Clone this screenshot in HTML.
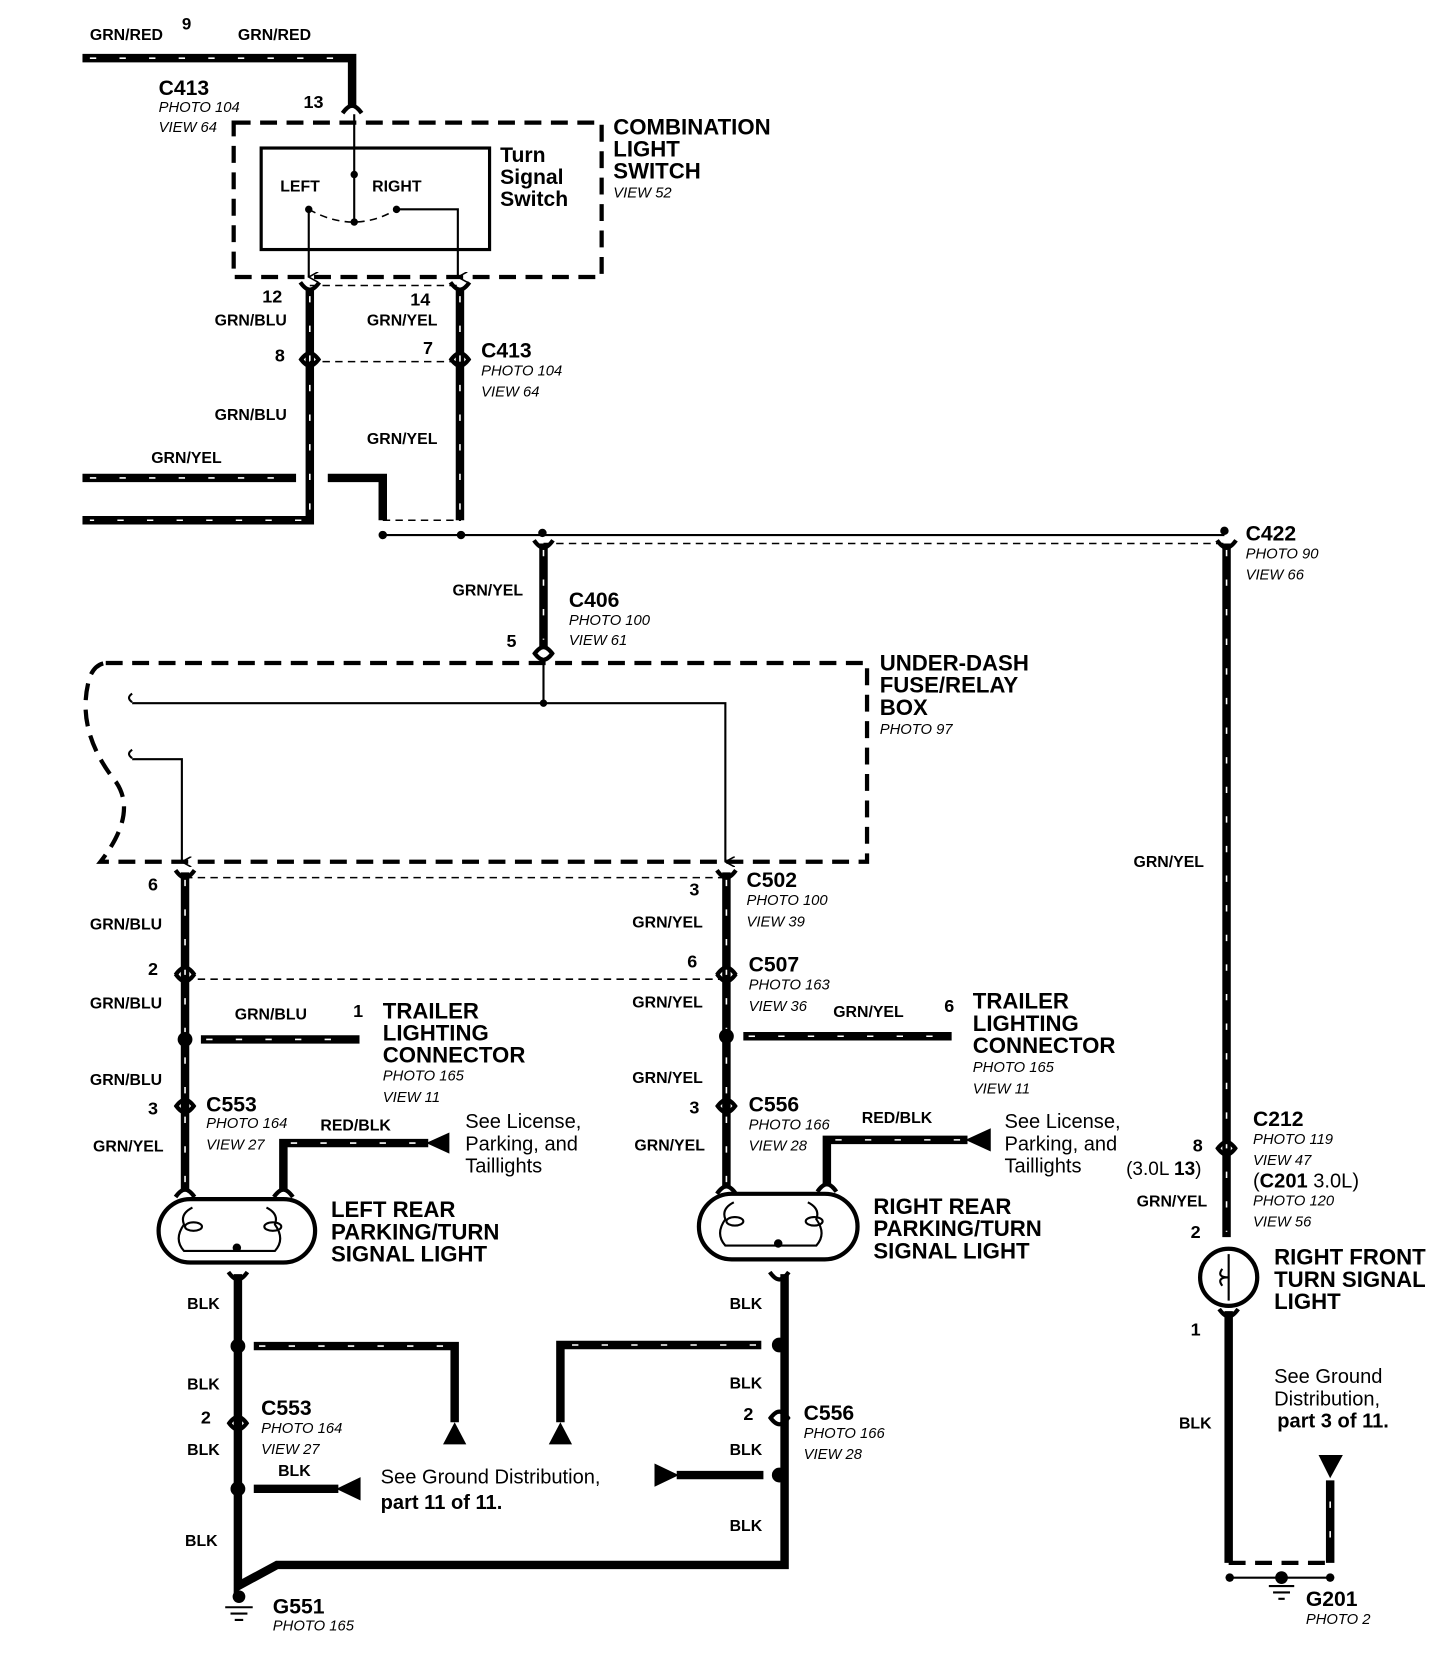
<!DOCTYPE html>
<html><head><meta charset="utf-8"><style>
html,body{margin:0;padding:0;background:#fff;}
svg{display:block;}
text{font-family:"Liberation Sans",sans-serif;fill:#000;}
.b{font-weight:bold;font-size:15px;}
.c{font-weight:bold;font-size:20px;}
.p{font-style:italic;font-size:14px;}
.L{font-weight:bold;font-size:21px;}
.n{font-size:19px;}
.w{stroke:#000;stroke-width:8;fill:none;}
.h{stroke:#fff;stroke-width:1.5;stroke-dasharray:6 22;fill:none;}
.t{stroke:#000;stroke-width:2;fill:none;}
.d{stroke:#000;stroke-width:1.5;stroke-dasharray:7 5;fill:none;}
.D{stroke:#000;stroke-width:4;stroke-dasharray:16 9;fill:none;}
.f{stroke:#000;stroke-width:4;fill:none;stroke-linejoin:round;}
</style></head><body>
<svg width="1456" height="1658" viewBox="0 0 1377 1568" xmlns="http://www.w3.org/2000/svg" preserveAspectRatio="none">
<defs>
<marker id="ar" markerWidth="10" markerHeight="10" refX="5" refY="9" orient="auto" markerUnits="userSpaceOnUse"><path d="M0,0 L5,9 L10,0" fill="none" stroke="#000" stroke-width="1.5"/></marker>
<path id="fu" d="M-9,-7 Q-4,0 0,0 Q4,0 9,-7"/>
<path id="fd" d="M-9,7 Q-4,0 0,0 Q4,0 9,7"/>
</defs>
<!-- top wire -->
<path class="w" d="M78,55 H333 V100"/><path class="h" d="M85,55 H325"/>
<text class="b" x="85" y="38">GRN/RED</text><text class="b" x="225" y="38">GRN/RED</text>
<text class="b" x="172" y="28" style="font-size:16px">9</text>
<text class="c" x="150" y="90">C413</text><text class="p" x="150" y="106">PHOTO 104</text><text class="p" x="150" y="125">VIEW 64</text>
<text class="b" x="287" y="102" style="font-size:17px">13</text>
<!-- combination switch -->
<rect class="D" x="221" y="116" width="348" height="146"/>
<rect x="247" y="140" width="216" height="96" fill="none" stroke="#000" stroke-width="3"/>
<text class="b" x="265" y="181">LEFT</text><text class="b" x="352" y="181">RIGHT</text>
<text class="c" x="473" y="153">Turn</text><text class="c" x="473" y="174">Signal</text><text class="c" x="473" y="195">Switch</text>
<text class="L" x="580" y="127">COMBINATION</text><text class="L" x="580" y="148">LIGHT</text><text class="L" x="580" y="169">SWITCH</text>
<text class="p" x="580" y="187">VIEW 52</text>
<path class="t" d="M335,108 V210"/><circle cx="335" cy="165" r="3.5"/><circle cx="335" cy="210" r="3.5"/>
<circle cx="292" cy="198" r="3.5"/><circle cx="375" cy="198" r="3.5"/>
<path class="d" d="M292,198 Q335,222 375,198"/>
<path class="t" d="M292,198 V262" marker-end="url(#ar)"/>
<path class="t" d="M375,198 H433 V262" marker-end="url(#ar)"/>
<!-- down wires -->
<path class="w" d="M293,272 V492 H78"/><path class="h" d="M293,280 V485"/><path class="h" d="M285,492 H85"/>
<path class="w" d="M435,272 V492"/><path class="h" d="M435,280 V485"/>
<path class="w" d="M78,452 H280"/><path class="h" d="M85,452 H275"/>
<path class="w" d="M310,452 H362 V492"/>
<path class="d" d="M293,270 H435"/><path class="d" d="M293,342 H435"/><path class="d" d="M362,492 H436"/>
<text class="b" x="248" y="286" style="font-size:17px">12</text><text class="b" x="203" y="308">GRN/BLU</text>
<text class="b" x="388" y="289" style="font-size:17px">14</text><text class="b" x="347" y="308">GRN/YEL</text>
<text class="b" x="260" y="342" style="font-size:17px">8</text><text class="b" x="400" y="335" style="font-size:17px">7</text>
<text class="c" x="455" y="338">C413</text><text class="p" x="455" y="355">PHOTO 104</text><text class="p" x="455" y="375">VIEW 64</text>
<text class="b" x="203" y="397">GRN/BLU</text><text class="b" x="347" y="420">GRN/YEL</text><text class="b" x="143" y="438">GRN/YEL</text>
<path class="t" d="M362,506 H1158"/>
<circle cx="362" cy="506" r="4"/><circle cx="436" cy="506" r="4"/><circle cx="513" cy="504" r="4"/><circle cx="1158" cy="502" r="4"/>
<!-- C406 -->
<path class="w" d="M514,514 V612"/><path class="h" d="M514,520 V605"/>
<path class="d" d="M514,514 H1158"/>
<text class="b" x="428" y="563">GRN/YEL</text>
<text class="c" x="538" y="574">C406</text><text class="p" x="538" y="591">PHOTO 100</text><text class="p" x="538" y="610">VIEW 61</text>
<text class="b" x="479" y="612" style="font-size:17px">5</text>
<!-- right wire -->
<path class="w" d="M1160,514 V1170"/><path class="h" d="M1160,520 V1165"/>
<text class="c" x="1178" y="511">C422</text><text class="p" x="1178" y="528">PHOTO 90</text><text class="p" x="1178" y="548">VIEW 66</text>
<text class="b" x="1072" y="820">GRN/YEL</text>
<!-- under-dash box -->
<path class="D" d="M100,627 H820 V815 H95 Q130,770 110,740 Q70,690 85,640 Q90,628 100,627"/>
<text class="L" x="832" y="634">UNDER-DASH</text><text class="L" x="832" y="655">FUSE/RELAY</text><text class="L" x="832" y="676">BOX</text>
<text class="p" x="832" y="694">PHOTO 97</text>
<path class="t" d="M514,628 V665"/><circle cx="514" cy="665" r="3.5"/>
<path class="t" d="M125,665 H686 V815" marker-end="url(#ar)"/>
<path class="t" d="M125,718 H172 V815" marker-end="url(#ar)"/>
<path class="t" d="M125,656 q-6,4 0,8 M125,709 q-6,4 0,8"/>
<!-- left column -->
<path class="w" d="M175,825 V1125"/><path class="h" d="M175,832 V1120"/>
<path class="w" d="M687,825 V1122"/><path class="h" d="M687,832 V1118"/>
<path class="d" d="M175,830 H687"/><path class="d" d="M175,926 H687"/>
<text class="b" x="140" y="842" style="font-size:17px">6</text><text class="b" x="85" y="879">GRN/BLU</text>
<text class="b" x="140" y="922" style="font-size:17px">2</text><text class="b" x="85" y="954">GRN/BLU</text>
<circle cx="175" cy="983" r="7"/>
<text class="b" x="222" y="964">GRN/BLU</text>
<path class="w" d="M190,983 H340"/><path class="h" d="M195,983 H335"/>
<text class="b" x="334" y="962" style="font-size:17px">1</text>
<text class="L" x="362" y="963">TRAILER</text><text class="L" x="362" y="984">LIGHTING</text><text class="L" x="362" y="1005">CONNECTOR</text>
<text class="p" x="362" y="1022">PHOTO 165</text><text class="p" x="362" y="1042">VIEW 11</text>
<text class="b" x="85" y="1026">GRN/BLU</text><text class="b" x="140" y="1054" style="font-size:17px">3</text>
<text class="c" x="195" y="1051">C553</text><text class="p" x="195" y="1067">PHOTO 164</text><text class="p" x="195" y="1087">VIEW 27</text>
<text class="b" x="88" y="1089">GRN/YEL</text>
<text class="b" x="303" y="1069">RED/BLK</text>
<path class="w" d="M268,1125 V1081 H405"/><path class="h" d="M275,1081 H400"/>
<path d="M403,1081 L425,1071 V1091 Z"/>
<text class="n" x="440" y="1067">See License,</text><text class="n" x="440" y="1088">Parking, and</text><text class="n" x="440" y="1109">Taillights</text>
<rect x="150" y="1134" width="148" height="60" rx="30" fill="none" stroke="#000" stroke-width="4"/>
<path class="t" d="M182,1142 q-12,6 -8,16 q-10,14 0,25 h86 q10,-11 0,-25 q4,-10 -8,-16"/>
<ellipse cx="183" cy="1160" rx="8" ry="4" class="t"/><ellipse cx="258" cy="1160" rx="8" ry="4" class="t"/>
<circle cx="224" cy="1180" r="4"/>
<text class="L" x="313" y="1151">LEFT REAR</text><text class="L" x="313" y="1172">PARKING/TURN</text><text class="L" x="313" y="1193">SIGNAL LIGHT</text>
<!-- right column labels -->
<text class="b" x="652" y="847" style="font-size:17px">3</text>
<text class="c" x="706" y="839">C502</text><text class="p" x="706" y="856">PHOTO 100</text><text class="p" x="706" y="876">VIEW 39</text>
<text class="b" x="598" y="877">GRN/YEL</text>
<text class="b" x="650" y="915" style="font-size:17px">6</text>
<text class="c" x="708" y="919">C507</text><text class="p" x="708" y="936">PHOTO 163</text><text class="p" x="708" y="956">VIEW 36</text>
<text class="b" x="598" y="953">GRN/YEL</text>
<circle cx="687" cy="980" r="7"/>
<text class="b" x="788" y="962">GRN/YEL</text>
<path class="w" d="M703,980 H900"/><path class="h" d="M708,980 H895"/>
<text class="b" x="893" y="957" style="font-size:17px">6</text>
<text class="L" x="920" y="954">TRAILER</text><text class="L" x="920" y="975">LIGHTING</text><text class="L" x="920" y="996">CONNECTOR</text>
<text class="p" x="920" y="1014">PHOTO 165</text><text class="p" x="920" y="1034">VIEW 11</text>
<text class="b" x="598" y="1024">GRN/YEL</text><text class="b" x="652" y="1053" style="font-size:17px">3</text>
<text class="c" x="708" y="1051">C556</text><text class="p" x="708" y="1068">PHOTO 166</text><text class="p" x="708" y="1088">VIEW 28</text>
<text class="b" x="600" y="1088">GRN/YEL</text>
<text class="b" x="815" y="1062">RED/BLK</text>
<path class="w" d="M782,1120 V1078 H915"/><path class="h" d="M790,1078 H910"/>
<path d="M913,1078 L937,1067 V1089 Z"/>
<text class="n" x="950" y="1067">See License,</text><text class="n" x="950" y="1088">Parking, and</text><text class="n" x="950" y="1109">Taillights</text>
<rect x="661" y="1129" width="150" height="62" rx="31" fill="none" stroke="#000" stroke-width="4"/>
<path class="t" d="M694,1137 q-12,6 -8,16 q-10,14 0,25 h86 q10,-11 0,-25 q4,-10 -8,-16"/>
<ellipse cx="695" cy="1155" rx="8" ry="4" class="t"/><ellipse cx="770" cy="1155" rx="8" ry="4" class="t"/>
<circle cx="736" cy="1176" r="4"/>
<text class="L" x="826" y="1148">RIGHT REAR</text><text class="L" x="826" y="1169">PARKING/TURN</text><text class="L" x="826" y="1190">SIGNAL LIGHT</text>
<!-- bottom left -->
<path class="w" d="M225,1205 V1500 L262,1480 H742 V1205"/>
<text class="b" x="177" y="1238">BLK</text><circle cx="225" cy="1273" r="7"/>
<path class="w" d="M240,1273 H430 V1345"/><path class="h" d="M245,1273 H425"/>
<path d="M430,1345 L419,1366 H441 Z"/>
<text class="b" x="177" y="1314">BLK</text><text class="b" x="190" y="1346" style="font-size:17px">2</text>
<text class="c" x="247" y="1338">C553</text><text class="p" x="247" y="1355">PHOTO 164</text><text class="p" x="247" y="1375">VIEW 27</text>
<text class="b" x="177" y="1376">BLK</text><text class="b" x="263" y="1396">BLK</text>
<circle cx="225" cy="1408" r="7"/>
<path class="w" d="M240,1408 H320"/><path d="M318,1408 L341,1397 V1419 Z"/>
<text class="n" x="360" y="1403">See Ground Distribution,</text><text class="L" x="360" y="1427" style="font-size:19px">part 11 of 11.</text>
<text class="b" x="175" y="1462">BLK</text>
<text class="c" x="258" y="1526">G551</text><text class="p" x="258" y="1542">PHOTO 165</text>
<circle cx="226" cy="1510" r="6"/><path class="t" d="M213,1520 H239 M218,1526 H234 M222,1532 H230"/>
<!-- bottom right -->
<text class="b" x="690" y="1238">BLK</text><circle cx="737" cy="1272" r="7"/>
<path class="w" d="M720,1272 H530 V1345"/><path class="h" d="M715,1272 H535"/>
<path d="M530,1345 L519,1366 H541 Z"/>
<text class="b" x="690" y="1313">BLK</text><text class="b" x="703" y="1343" style="font-size:17px">2</text>
<text class="c" x="760" y="1343">C556</text><text class="p" x="760" y="1360">PHOTO 166</text><text class="p" x="760" y="1380">VIEW 28</text>
<text class="b" x="690" y="1376">BLK</text><circle cx="737" cy="1395" r="7"/>
<path class="w" d="M640,1395 H722"/><path d="M642,1395 L619,1384 V1406 Z"/>
<text class="b" x="690" y="1448">BLK</text>
<!-- far right -->
<text class="b" x="1128" y="1089" style="font-size:17px">8</text><text class="n" x="1065" y="1111" style="font-size:18px">(3.0L <tspan font-weight="bold">13</tspan>)</text>
<text class="c" x="1185" y="1065">C212</text><text class="p" x="1185" y="1082">PHOTO 119</text><text class="p" x="1185" y="1102">VIEW 47</text>
<text class="n" x="1185" y="1123">(<tspan font-weight="bold">C201</tspan> 3.0L)</text>
<text class="p" x="1185" y="1140">PHOTO 120</text><text class="p" x="1185" y="1160">VIEW 56</text>
<text class="b" x="1075" y="1141">GRN/YEL</text><text class="b" x="1126" y="1171" style="font-size:17px">2</text>
<circle cx="1162" cy="1208" r="27" fill="none" stroke="#000" stroke-width="4"/>
<path class="t" d="M1162,1186 V1230 M1156,1200 q-6,8 6,8 q-12,0 -6,8"/>
<text class="L" x="1205" y="1196">RIGHT FRONT</text><text class="L" x="1205" y="1217">TURN SIGNAL</text><text class="L" x="1205" y="1238">LIGHT</text>
<text class="b" x="1126" y="1263" style="font-size:17px">1</text>
<path class="w" d="M1162,1240 V1478"/>
<text class="b" x="1115" y="1351">BLK</text>
<text class="n" x="1205" y="1308">See Ground</text><text class="n" x="1205" y="1329">Distribution,</text><text class="L" x="1208" y="1350" style="font-size:19px">part 3 of 11.</text>
<path d="M1247,1376 H1270 L1258,1398 Z"/>
<path class="w" d="M1258,1400 V1478"/><path class="h" d="M1258,1420 V1470"/>
<path class="D" d="M1162,1478 H1258"/>
<path class="t" d="M1163,1492 H1258"/>
<circle cx="1163" cy="1492" r="4"/><circle cx="1258" cy="1492" r="4"/><circle cx="1212" cy="1492" r="6"/>
<path class="t" d="M1200,1500 H1224 M1204,1506 H1220 M1209,1512 H1215"/>
<text class="c" x="1235" y="1519">G201</text><text class="p" x="1235" y="1536">PHOTO 2</text>
<!-- connector flares -->
<g class="f">
<use href="#fd" x="333" y="100"/>
<use href="#fu" x="293" y="274"/><use href="#fu" x="435" y="274"/>
<use href="#fd" x="293" y="334"/><use href="#fd" x="435" y="334"/>
<use href="#fu" x="293" y="346"/><use href="#fu" x="435" y="346"/>
<use href="#fu" x="514" y="518"/><use href="#fd" x="514" y="612"/><use href="#fu" x="514" y="624"/>
<use href="#fu" x="1160" y="518"/>
<use href="#fu" x="175" y="830"/><use href="#fu" x="687" y="830"/>
<use href="#fd" x="175" y="915"/><use href="#fd" x="687" y="915"/>
<use href="#fu" x="175" y="928"/><use href="#fu" x="687" y="928"/>
<use href="#fd" x="175" y="1040"/><use href="#fd" x="687" y="1040"/>
<use href="#fu" x="175" y="1052"/><use href="#fu" x="687" y="1052"/>
<use href="#fd" x="1160" y="1080"/><use href="#fu" x="1160" y="1092"/>
<use href="#fu" x="225" y="1210"/><use href="#fu" x="737" y="1210"/>
<use href="#fd" x="225" y="1340"/><use href="#fu" x="225" y="1352"/>
<use href="#fd" x="737" y="1335"/><use href="#fu" x="737" y="1347"/>
<use href="#fu" x="1162" y="1245"/>
<use href="#fd" x="175" y="1125"/><use href="#fd" x="687" y="1122"/>
<use href="#fd" x="268" y="1125"/><use href="#fd" x="782" y="1120"/>
</g>
</svg>
</body></html>
